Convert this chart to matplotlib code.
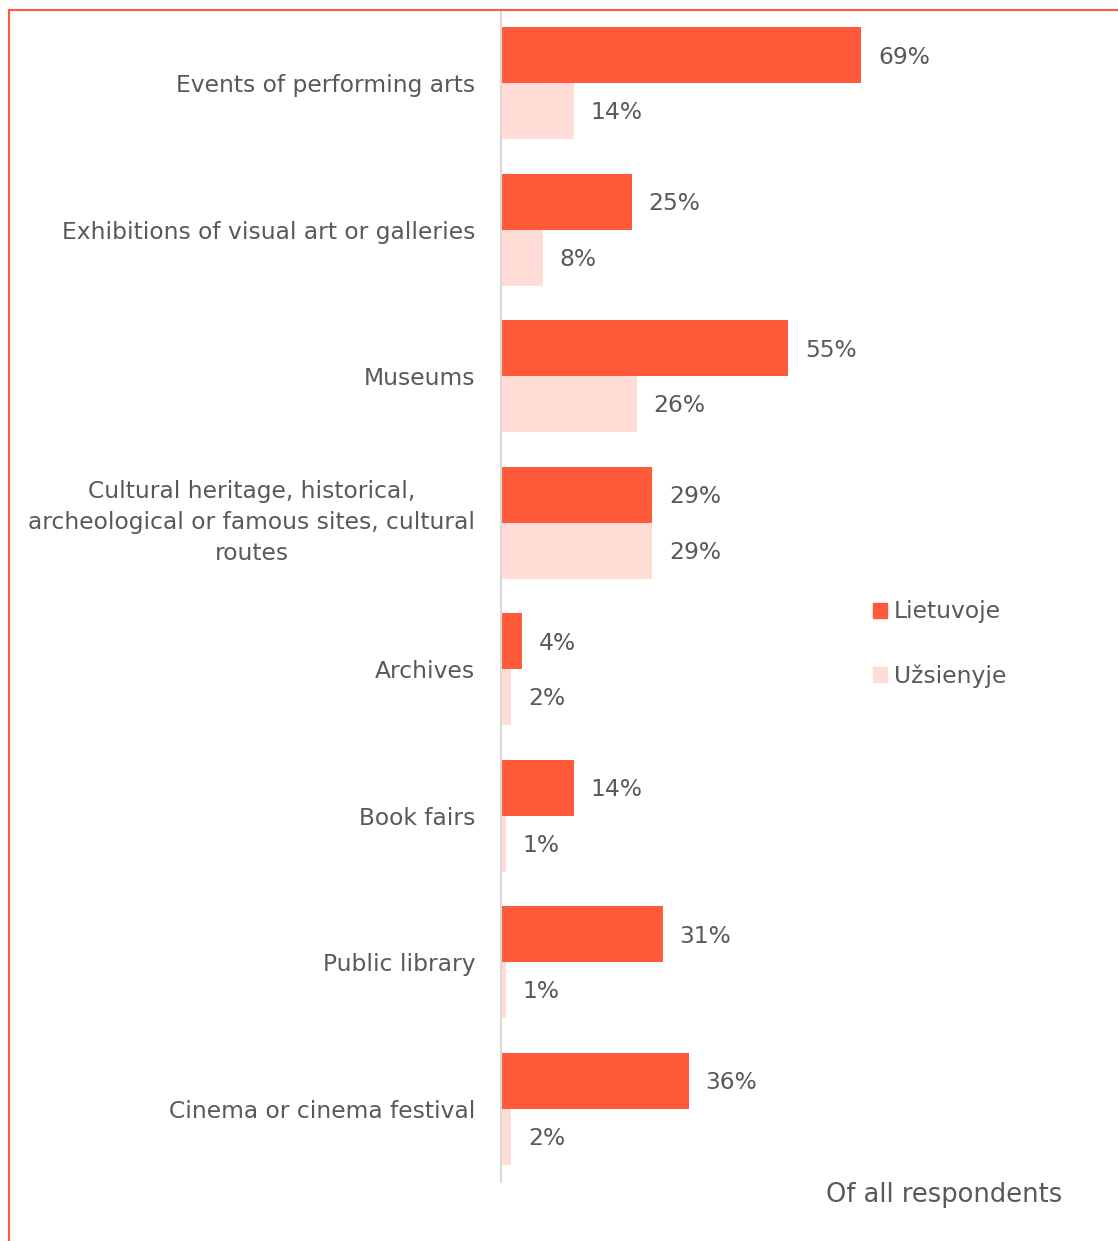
import matplotlib.pyplot as plt
import numpy as np
from matplotlib.lines import Line2D
from matplotlib.patches import Patch

# survey data: share of respondents who attended, in Lithuania vs abroad
categories = [
    'Events of performing arts',
    'Exhibitions of visual art or galleries',
    'Museums',
    'Cultural heritage, historical,\narcheological or famous sites, cultural\nroutes',
    'Archives',
    'Book fairs',
    'Public library',
    'Cinema or cinema festival',
]
lietuvoje = [69, 25, 55, 29, 4, 14, 31, 36]
uzsienyje = [14, 8, 26, 29, 2, 1, 1, 2]
series_names = ['Lietuvoje', 'Užsienyje']

c_dark = '#FF5B3B'
c_light = '#FFDDD6'
c_text = '#595959'
plt.rcParams['font.family'] = ['DejaVu Sans']

W, H = 1118, 1241
fig = plt.figure(figsize=(W / 100, H / 100), dpi=100)

# frame lines along the left and top edges
fig.add_artist(Line2D([8.5 / W, 8.5 / W], [0, 1 - 10 / H], color=c_dark, lw=1.5,
                      transform=fig.transFigure))
fig.add_artist(Line2D([8.5 / W, 1], [1 - 10 / H, 1 - 10 / H], color=c_dark, lw=1.5,
                      transform=fig.transFigure))

left, right = 501, 1040
top, bottom = 10, 1182
ax = fig.add_axes([left / W, 1 - bottom / H, (right - left) / W, (bottom - top) / H])
ax.set_xlim(0, (right - left) / 5.22)
ax.set_ylim(len(categories) - 0.5, -0.5)

y = np.arange(len(categories))
h = 0.382
ax.barh(y - h / 2, lietuvoje, height=h, color=c_dark)
ax.barh(y + h / 2, uzsienyje, height=h, color=c_light)

fs = 16.8
dy = 0.012
for i in range(len(categories)):
    ax.text(lietuvoje[i] + 3.2, y[i] - h / 2 + dy, f'{lietuvoje[i]}%', va='center', ha='left',
            fontsize=fs, color=c_text)
    ax.text(uzsienyje[i] + 3.2, y[i] + h / 2 + dy, f'{uzsienyje[i]}%', va='center', ha='left',
            fontsize=fs, color=c_text)

ax.set_yticks(y)
ax.set_yticklabels(categories, fontsize=fs, color=c_text, ha='right',
                   multialignment='center', linespacing=1.45)
# multi-line label block is centred on its whole height
for lab in ax.get_yticklabels():
    if '\n' in lab.get_text():
        lab.set_va('center')
ax.tick_params(axis='y', length=0, pad=18.5)
ax.set_xticks([])
for s in ['top', 'right', 'bottom']:
    ax.spines[s].set_visible(False)
ax.spines['left'].set_color('#D9D9D9')
ax.spines['left'].set_linewidth(1.5)

handles = [Patch(color=c_dark), Patch(color=c_light)]
fig.legend(handles, series_names, loc='center left',
           bbox_to_anchor=(852 / W, 1 - 644 / H), frameon=False, fontsize=fs,
           handlelength=0.6, handleheight=0.6, handletextpad=0.3, labelspacing=1.75,
           labelcolor=c_text)

fig.text(1062 / W, 1 - 1195 / H, 'Of all respondents', ha='right', va='center',
         fontsize=18.5, color=c_text)

fig.savefig('out.png', dpi=100)
